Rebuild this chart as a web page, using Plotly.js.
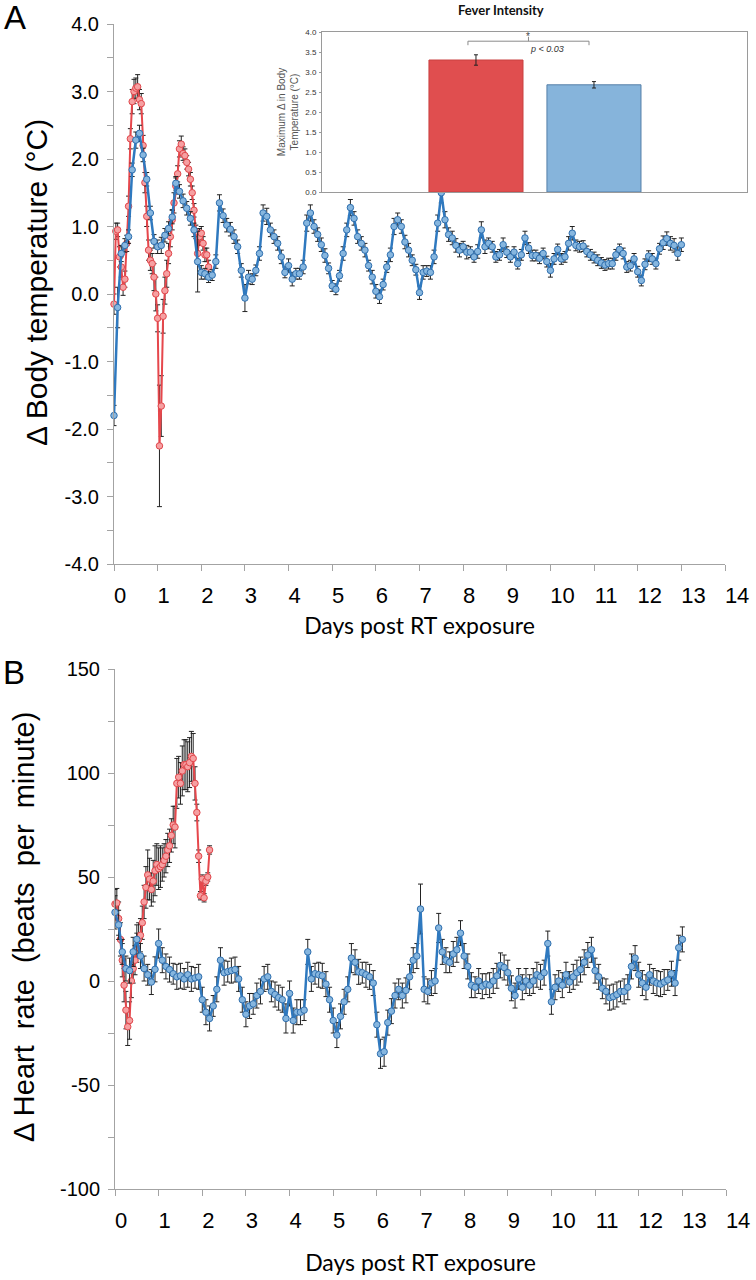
<!DOCTYPE html>
<html>
<head>
<meta charset="utf-8">
<script src="https://cdn.plot.ly/plotly-3.0.1.min.js"></script>
<style>
html,body{margin:0;padding:0;background:#ffffff;}
#chart{width:756px;height:1280px;}
</style>
</head>
<body>
<div id="chart"></div>
<script>
// ---------------- DATA ----------------
// Sampling intervals (hours) of the two groups
const BLUE_STEP_H = 2;
const RED_STEP_H = 1;

// Panel A: change in body temperature (°C)
const tempBlue = [
-1.80,-0.20,0.60,0.72,0.85,1.84,2.28,2.38,2.06,1.70,1.20,0.78,
0.70,0.72,0.87,0.97,1.14,1.64,1.52,1.38,1.27,1.12,0.95,0.48,
0.32,0.30,0.25,0.28,0.48,1.35,1.16,1.02,0.96,0.85,0.70,0.35,
-0.06,0.25,0.22,0.35,0.60,1.20,1.15,0.95,0.85,0.75,0.55,0.32,
0.42,0.22,0.30,0.30,0.40,1.05,1.20,1.00,0.88,0.73,0.57,0.38,
0.12,0.07,0.27,0.60,0.95,1.28,1.12,0.85,0.75,0.65,0.42,0.25,
0.04,-0.04,0.14,0.40,0.58,1.00,1.10,1.00,0.77,0.65,0.50,0.36,
0.02,0.32,0.34,0.32,0.55,1.05,1.50,1.10,0.88,0.83,0.72,0.65,
0.70,0.62,0.62,0.55,0.63,0.95,0.70,0.75,0.70,0.55,0.58,0.73,
0.62,0.55,0.62,0.45,0.58,0.83,0.68,0.57,0.57,0.53,0.60,0.48,
0.35,0.52,0.66,0.52,0.55,0.75,0.90,0.72,0.70,0.71,0.63,0.58,
0.54,0.50,0.46,0.43,0.45,0.45,0.58,0.66,0.60,0.40,0.42,0.52,
0.33,0.20,0.44,0.56,0.52,0.45,0.67,0.76,0.82,0.75,0.72,0.60,
0.73];
const tempBlueErr = [
0.15,0.30,0.12,0.10,0.10,0.10,0.12,0.12,0.10,0.10,0.10,0.10,
0.10,0.12,0.10,0.10,0.10,0.10,0.10,0.10,0.10,0.10,0.10,0.45,
0.10,0.08,0.08,0.08,0.10,0.12,0.10,0.10,0.10,0.10,0.10,0.10,
0.20,0.10,0.08,0.08,0.10,0.12,0.12,0.10,0.10,0.10,0.10,0.08,
0.10,0.10,0.08,0.08,0.10,0.12,0.12,0.10,0.10,0.10,0.10,0.08,
0.08,0.08,0.08,0.10,0.10,0.12,0.10,0.10,0.10,0.10,0.08,0.10,
0.10,0.10,0.08,0.08,0.10,0.12,0.10,0.10,0.10,0.10,0.08,0.08,
0.10,0.10,0.08,0.10,0.10,0.12,0.15,0.12,0.10,0.10,0.10,0.10,
0.08,0.10,0.08,0.08,0.10,0.12,0.10,0.08,0.08,0.08,0.08,0.10,
0.08,0.08,0.08,0.08,0.08,0.10,0.08,0.08,0.08,0.08,0.08,0.08,
0.10,0.08,0.08,0.08,0.08,0.10,0.10,0.08,0.08,0.08,0.08,0.08,
0.08,0.08,0.08,0.08,0.08,0.08,0.08,0.08,0.08,0.08,0.08,0.08,
0.08,0.08,0.08,0.08,0.08,0.08,0.08,0.10,0.10,0.10,0.10,0.10,
0.10];
const tempRed = [
-0.15,0.93,0.95,0.55,0.40,0.10,0.22,0.75,1.30,2.30,2.85,3.00,
3.05,3.07,2.88,2.82,2.20,1.65,1.15,0.65,0.50,0.45,0.25,0.00,
-0.36,-2.25,-1.66,-0.33,0.05,0.30,0.60,0.85,1.10,1.35,1.60,1.78,
2.15,2.22,2.08,2.05,1.95,1.85,1.70,1.50,1.24,0.92,0.60,0.85,
0.90,0.75,0.58,0.58,0.40];
const tempRedErr = [
0.15,0.12,0.10,0.15,0.15,0.12,0.12,0.12,0.15,0.15,0.18,0.18,
0.15,0.18,0.15,0.15,0.15,0.15,0.15,0.15,0.15,0.15,0.20,0.25,
0.20,0.90,0.45,0.25,0.20,0.20,0.15,0.15,0.15,0.15,0.12,0.12,
0.12,0.12,0.10,0.10,0.10,0.10,0.10,0.10,0.10,0.10,0.12,0.12,
0.10,0.10,0.10,0.10,0.10];

// Panel B: change in heart rate (beats per minute)
const hrBlue = [
33,27,14,6,5,14,20,12,6,3,-0.5,5.6,
18,10,7,5.5,3.5,2,2.5,1,3,1,1.5,2,
-9,-15,-18,-12,-4,10,4,4.5,5,5.5,1,-9,
-16,-12,-11,-7,-5,1,2,-5,-6.5,-8,-9,-18,
-6,-19,-15,-15,-14,14,1,3.5,3,2.5,-1.5,-9,
-19,-26,-17,-10,-4,11,9,4.4,4,3,2,-1,
-21,-35,-34,-20,-14.5,-7,-4,-7,-4.5,2,10,12,
34.6,-4,-5,-1,0,25.5,14,10,9,13,15,23,
12,7,-2,-3,0,-2.5,-1.5,-2,0,2.5,7.5,6.5,
4,-3.5,-7,1,-3,0,-2,0,3,2,4,18,
-10,-3,0,-2,3,-0.5,2,4,5.5,9,12.5,15,
5,2,-3.5,-5,-8,-7.5,-6.5,-5,-5,-3,7,11,
3,-1,-3,3,0,-1,-1.5,-0.5,0.5,3.5,-1,16,
20];
const hrBlueErr = [
8,7,6,6,6,7,7,6,6,5,6,6,
7,6,6,6,5,6,6,5,6,6,5,6,
6,6,6,5,6,6,6,5,6,6,6,6,
6,6,5,6,6,6,6,5,6,6,6,7,
6,6,6,6,5,6,6,5,6,6,6,6,
6,6,6,6,6,7,6,6,5,6,6,6,
6,7,7,6,6,6,5,6,6,6,6,6,
12,6,6,6,6,7,6,6,5,6,6,6,
6,6,6,5,6,6,5,6,6,6,6,6,
6,6,6,5,6,6,5,6,6,6,6,6,
6,6,5,6,6,5,6,6,6,6,6,6,
6,6,5,6,6,6,6,5,6,6,6,6,
6,6,6,5,6,6,6,6,5,6,6,6,
6];
const hrRed = [
37,37.5,30,20,10,-2,-14,-22,-19,0,6,10,
16,20,22,28,38,45,51,49,44,48,53,56,
54,55,56,58,60,63,65,70,75,74,95,98,
95,101,104,104,103,105,108,107,95,81,60,41,
49,40,48,50,63];
const hrRedErr = [
7,7,8,8,8,8,9,9,9,8,7,7,
7,8,8,8,8,10,12,10,8,10,12,10,
10,10,8,8,8,8,8,8,9,10,12,10,
10,12,12,12,12,12,12,12,8,4,3,2,
2,2,2,2,2];

// Inset: fever intensity
const feverGroups = ['Group 1', 'Group 2'];
const feverMax = [3.30, 2.68];
const feverErr = [0.13, 0.08];
const feverColors = ['#e04e4f', '#86b4db'];
const feverEdges = ['#c94040', '#557fa8'];

// Tick labels
const dayTicks = [0,1,2,3,4,5,6,7,8,9,10,11,12,13,14];
const dayTickLabels = ['0','1','2','3','4','5','6','7','8','9','10','11','12','13','14'];
const tempTicks = [-4,-3,-2,-1,0,1,2,3,4];
const tempTickLabels = ['-4.0','-3.0','-2.0','-1.0','0.0','1.0','2.0','3.0','4.0'];
const hrTicks = [-100,-50,0,50,100,150];
const hrTickLabels = ['-100','-50','0','50','100','150'];

// ---------------- BUILD ----------------
const daysOf = (arr, stepH) => arr.map((_, i) => i * stepH / 24);
// labels sit to the right of their ticks: shift all, pad multi-digit ones
const dayTickText = dayTickLabels.map(s => '\u00a0'.repeat(2 * (s.length - 1)) + s);

const BLUE_LINE = '#2f79bf', BLUE_FILL = '#86b6df', BLUE_EDGE = '#2f6fae';
const RED_LINE = '#e6474c', RED_FILL = '#f6a0a2', RED_EDGE = '#e0464b';
const AXIS_GREY = '#a3a3a3';
const SANS = '"Liberation Sans", Arial, sans-serif';
const HUM = 'Lato, "Open Sans", sans-serif';

function series(x, y, err, line, fill, edge, xa, ya, lw) {
  return {
    type: 'scatter', mode: 'lines+markers', x: x, y: y, xaxis: xa, yaxis: ya,
    cliponaxis: false, hoverinfo: 'skip',
    line: {color: line, width: lw},
    marker: {size: 6.5, color: fill, line: {color: edge, width: 1}},
    error_y: {type: 'data', array: err, visible: true, color: '#222', thickness: 1, width: 2.5}
  };
}

const traces = [
  series(daysOf(tempRed, RED_STEP_H), tempRed, tempRedErr, RED_LINE, RED_FILL, RED_EDGE, 'x', 'y', 2),
  series(daysOf(tempBlue, BLUE_STEP_H), tempBlue, tempBlueErr, BLUE_LINE, BLUE_FILL, BLUE_EDGE, 'x', 'y', 2.5),
  series(daysOf(hrRed, RED_STEP_H), hrRed, hrRedErr, RED_LINE, RED_FILL, RED_EDGE, 'x2', 'y2', 2),
  series(daysOf(hrBlue, BLUE_STEP_H), hrBlue, hrBlueErr, BLUE_LINE, BLUE_FILL, BLUE_EDGE, 'x2', 'y2', 2.5),
  {
    type: 'bar', x: feverGroups, y: feverMax, xaxis: 'x3', yaxis: 'y3', width: 0.797,
    hoverinfo: 'skip',
    marker: {color: feverColors, line: {color: feverEdges, width: 1}},
    error_y: {type: 'data', array: feverErr, visible: true, color: '#222', thickness: 1, width: 2}
  }
];

const W = 756, H = 1280;
const px = v => v / W, py = v => 1 - v / H;

function dayAxis(x0, x1, anchor, titleStandoff) {
  return {
    domain: [px(x0), px(x1)], range: [0, 14], anchor: anchor,
    tickmode: 'array', tickvals: dayTicks, ticktext: dayTickText, tickangle: 0,
    ticklabelshift: 6,
    ticks: 'outside', ticklen: 6, tickcolor: AXIS_GREY, tickwidth: 1,
    showline: true, linecolor: AXIS_GREY, linewidth: 1,
    showgrid: false, zeroline: false,
    tickfont: {family: SANS, size: 22, color: '#000'},
    ticklabelstandoff: 6,
    title: {text: 'Days post RT exposure', font: {family: HUM, size: 23, color: '#000'}, standoff: titleStandoff}
  };
}

const layout = {
  width: W, height: H,
  margin: {l: 0, r: 0, t: 0, b: 0},
  paper_bgcolor: '#ffffff', plot_bgcolor: '#ffffff',
  showlegend: false,
  font: {family: SANS, color: '#000'},
  xaxis: dayAxis(114, 725, 'y', 10),
  yaxis: {
    domain: [py(564), py(24)], range: [-4, 4], anchor: 'x',
    tickmode: 'array', tickvals: tempTicks, ticktext: tempTickLabels,
    minor: {tickmode: 'linear', tick0: -4, dtick: 0.5, ticks: 'outside', ticklen: 6, tickcolor: AXIS_GREY, showgrid: false},
    ticks: 'outside', ticklen: 6, tickcolor: AXIS_GREY,
    showline: true, linecolor: AXIS_GREY, linewidth: 1,
    showgrid: false, zeroline: false,
    tickfont: {family: SANS, size: 20, color: '#000'},
    ticklabelstandoff: 4
  },
  xaxis2: dayAxis(115, 726, 'y2', 22),
  yaxis2: {
    domain: [py(1189), py(669)], range: [-100, 150], anchor: 'x2',
    tickmode: 'array', tickvals: hrTicks, ticktext: hrTickLabels,
    minor: {tickmode: 'linear', tick0: -100, dtick: 25, ticks: 'outside', ticklen: 6, tickcolor: AXIS_GREY, showgrid: false},
    ticks: 'outside', ticklen: 6, tickcolor: AXIS_GREY,
    showline: true, linecolor: AXIS_GREY, linewidth: 1,
    showgrid: false, zeroline: false,
    tickfont: {family: SANS, size: 20, color: '#000'},
    ticklabelstandoff: 4
  },
  xaxis3: {
    domain: [px(322), px(747)], range: [-1.305, 2.297], anchor: 'y3',
    type: 'category', showticklabels: false, ticks: '',
    showline: true, mirror: true, linecolor: '#9a9a9a', linewidth: 1,
    showgrid: false, zeroline: false
  },
  yaxis3: {
    domain: [py(192), py(32)], range: [0, 4], anchor: 'x3',
    tickmode: 'linear', tick0: 0, dtick: 0.5, tickformat: '.1f',
    ticks: 'outside', ticklen: 2, tickcolor: '#9a9a9a',
    showline: true, mirror: true, linecolor: '#9a9a9a', linewidth: 1,
    showgrid: false, zeroline: false,
    tickfont: {family: SANS, size: 8, color: '#333'},
    ticklabelstandoff: 1,
    title: {text: 'Maximum \u0394 in Body<br>Temperature (\u00b0C)', font: {family: SANS, size: 10, color: '#555'}, standoff: 4}
  },
  shapes: [
    {type: 'line', xref: 'x3', yref: 'y3', x0: -0.068, x1: 0.958, y0: 3.77, y1: 3.77, line: {color: '#8a8a8a', width: 1}},
    {type: 'line', xref: 'x3', yref: 'y3', x0: -0.068, x1: -0.068, y0: 3.77, y1: 3.67, line: {color: '#8a8a8a', width: 1}},
    {type: 'line', xref: 'x3', yref: 'y3', x0: 0.958, x1: 0.958, y0: 3.77, y1: 3.67, line: {color: '#8a8a8a', width: 1}},
    {type: 'line', xref: 'x3', yref: 'y3', x0: 0.445, x1: 0.445, y0: 3.77, y1: 3.88, line: {color: '#8a8a8a', width: 1}}
  ],
  annotations: [
    {text: '\u0394 Body temperature (\u00b0C)', xref: 'paper', yref: 'paper', x: px(36), y: py(283), textangle: -90, xanchor: 'center', yanchor: 'middle', showarrow: false, font: {family: SANS, size: 30, color: '#000'}},
    {text: '\u0394 Heart  rate  (beats  per  minute)', xref: 'paper', yref: 'paper', x: px(24), y: py(927), textangle: -90, xanchor: 'center', yanchor: 'middle', showarrow: false, font: {family: SANS, size: 29, color: '#000'}},
    {text: 'A', xref: 'paper', yref: 'paper', x: px(15), y: py(17), xanchor: 'center', yanchor: 'middle', showarrow: false, font: {family: SANS, size: 33, color: '#000'}},
    {text: 'B', xref: 'paper', yref: 'paper', x: px(14), y: py(672), xanchor: 'center', yanchor: 'middle', showarrow: false, font: {family: SANS, size: 33, color: '#000'}},
    {text: '<b>Fever Intensity</b>', xref: 'paper', yref: 'paper', x: px(501), y: py(10), xanchor: 'center', yanchor: 'middle', showarrow: false, font: {family: HUM, size: 13, color: '#111'}},
    {text: '*', xref: 'x3', yref: 'y3', x: 0.445, y: 3.9, xanchor: 'center', yanchor: 'middle', showarrow: false, font: {family: SANS, size: 10, color: '#444'}},
    {text: '<i>p &lt; 0.03</i>', xref: 'x3', yref: 'y3', x: 0.6, y: 3.58, xanchor: 'center', yanchor: 'middle', showarrow: false, font: {family: SANS, size: 9, color: '#333'}}
  ]
};

Plotly.newPlot('chart', traces, layout, {displayModeBar: false, staticPlot: true});
</script>
</body>
</html>
